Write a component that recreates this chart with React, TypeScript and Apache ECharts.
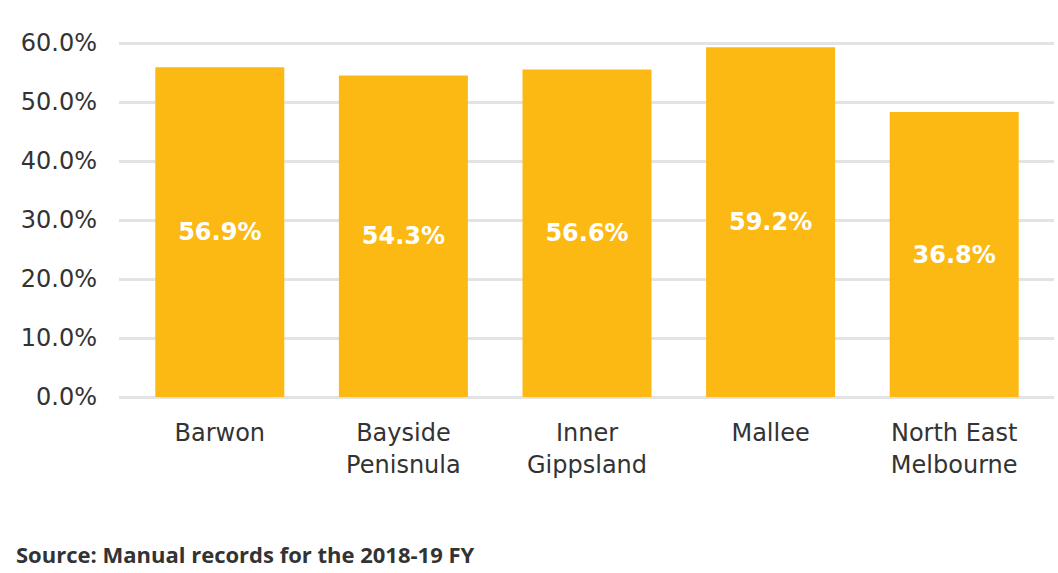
import React, { useEffect, useRef } from "react";
import * as echarts from "echarts";

const categories = ["Barwon", "Bayside\nPenisnula", "Inner\nGippsland", "Mallee", "North East\nMelbourne"];
const barValues = [55.9, 54.5, 55.5, 59.3, 48.3];
const labelTexts = ["56.9%", "54.3%", "56.6%", "59.2%", "36.8%"];
const sourceText = "Source: Manual records for the 2018-19 FY";

const FONT = "'DejaVu Sans', sans-serif";
const SRC_FONT = "'Open Sans', 'DejaVu Sans', sans-serif";

export default function App() {
  const ref = useRef<HTMLDivElement>(null);
  useEffect(() => {
    if (!ref.current) return;
    const chart = echarts.init(ref.current, undefined, { renderer: "svg" });
    chart.setOption({
      animation: false,
      backgroundColor: "#ffffff",
      grid: [
        { left: 119, right: 4, top: 43, bottom: 176, containLabel: false },
        { left: 128, right: 12, top: 43, bottom: 176, containLabel: false },
      ],
      xAxis: [
        { type: "category", gridIndex: 0, data: categories, show: false },
        {
          type: "category",
          gridIndex: 1,
          data: categories,
          axisLine: { show: false },
          axisTick: { show: false },
          axisLabel: {
            color: "#333333",
            fontFamily: FONT,
            fontSize: 24,
            lineHeight: 32,
            margin: 20,
            interval: 0,
          },
        },
      ],
      yAxis: [
        {
          type: "value",
          gridIndex: 0,
          min: 0,
          max: 60,
          interval: 10,
          axisLine: { show: false },
          axisTick: { show: false },
          splitLine: { lineStyle: { color: "#e3e3e3", width: 3 } },
          axisLabel: {
            color: "#333333",
            fontFamily: FONT,
            fontSize: 24,
            margin: 22,
            formatter: (v: number) => v.toFixed(1) + "%",
          },
        },
        {
          type: "value",
          gridIndex: 1,
          min: 0,
          max: 60,
          interval: 10,
          show: false,
        },
      ],
      series: [
        {
          type: "bar",
          xAxisIndex: 1,
          yAxisIndex: 1,
          data: barValues,
          barWidth: 129,
          itemStyle: { color: "#FDB913" },
          label: {
            show: true,
            position: "inside",
            color: "#ffffff",
            fontFamily: FONT,
            fontWeight: "bold",
            fontSize: 24,
            formatter: (p: any) => labelTexts[p.dataIndex],
          },
        },
      ],
      graphic: [
        {
          type: "text",
          left: 16,
          top: 543,
          style: {
            text: sourceText,
            fill: "#333333",
            font: "bold 22px " + SRC_FONT,
          },
        },
      ],
    });
    return () => chart.dispose();
  }, []);
  return <div ref={ref} style={{ width: 1058, height: 573, position: "absolute", left: 0, top: 0 }} />;
}
